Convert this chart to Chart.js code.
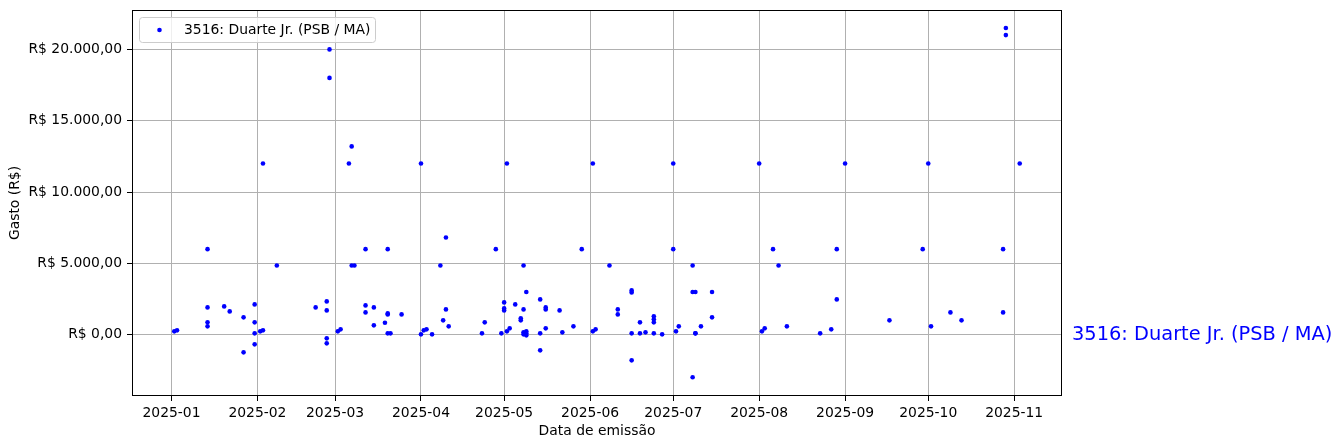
<!DOCTYPE html>
<html lang="pt-BR">
<head>
<meta charset="UTF-8">
<title>Gastos por data de emissão</title>
<script src="https://cdn.jsdelivr.net/npm/chart.js"></script>
<style>
  html, body { margin: 0; padding: 0; background: #fff; }
  #wrap { width: 1342px; height: 448px; }
</style>
</head>
<body>
<div id="wrap"><canvas id="chart" width="1342" height="448"></canvas></div>
<script>
const deputado = "3516: Duarte Jr. (PSB / MA)";

// data de emissão / valor (R$)
const dates = [
  "2025-01-02", "2025-01-03", "2025-01-14", "2025-01-14", "2025-01-14", "2025-01-14",
  "2025-01-20", "2025-01-22", "2025-01-27", "2025-01-27", "2025-01-31", "2025-01-31",
  "2025-01-31", "2025-01-31",
  "2025-02-02", "2025-02-03", "2025-02-03", "2025-02-08", "2025-02-22", "2025-02-26",
  "2025-02-26", "2025-02-26", "2025-02-26", "2025-02-27", "2025-02-27",
  "2025-03-02", "2025-03-03", "2025-03-06", "2025-03-07", "2025-03-07", "2025-03-08",
  "2025-03-12", "2025-03-12", "2025-03-12", "2025-03-15", "2025-03-15", "2025-03-19",
  "2025-03-20", "2025-03-20", "2025-03-20", "2025-03-20", "2025-03-21", "2025-03-25",
  "2025-04-01", "2025-04-01", "2025-04-02", "2025-04-03", "2025-04-05", "2025-04-08",
  "2025-04-09", "2025-04-10", "2025-04-10", "2025-04-11", "2025-04-23", "2025-04-24",
  "2025-04-28", "2025-04-30",
  "2025-05-01", "2025-05-01", "2025-05-01", "2025-05-02", "2025-05-02", "2025-05-03",
  "2025-05-05", "2025-05-07", "2025-05-07", "2025-05-08", "2025-05-08", "2025-05-09",
  "2025-05-08", "2025-05-08", "2025-05-09", "2025-05-09", "2025-05-09", "2025-05-14",
  "2025-05-14", "2025-05-14", "2025-05-16", "2025-05-16", "2025-05-16", "2025-05-21",
  "2025-05-22", "2025-05-26", "2025-05-29",
  "2025-06-02", "2025-06-02", "2025-06-03", "2025-06-08", "2025-06-11", "2025-06-11",
  "2025-06-16", "2025-06-16", "2025-06-16", "2025-06-16", "2025-06-19", "2025-06-19",
  "2025-06-21", "2025-06-24", "2025-06-24", "2025-06-24", "2025-06-24", "2025-06-27",
  "2025-07-01", "2025-07-01", "2025-07-02", "2025-07-03", "2025-07-08", "2025-07-08",
  "2025-07-09", "2025-07-08", "2025-07-09", "2025-07-09", "2025-07-11", "2025-07-15",
  "2025-07-15",
  "2025-08-01", "2025-08-02", "2025-08-03", "2025-08-06", "2025-08-08", "2025-08-11",
  "2025-08-23", "2025-08-27", "2025-08-29", "2025-08-29",
  "2025-09-01", "2025-09-17", "2025-09-29",
  "2025-10-01", "2025-10-02", "2025-10-09", "2025-10-13", "2025-10-28", "2025-10-28",
  "2025-10-29", "2025-10-29",
  "2025-11-03"
];
const values = [
  240, 310, 6000, 1920, 870, 590,
  1990, 1640, 1220, -1230, 2130, 870,
  100, -670,
  240, 310, 12000, 4860, 1920, -600,
  -250, 1710, 2340, 20000, 18000,
  240, 380, 12000, 13200, 4860, 4860,
  6000, 2060, 1570, 1920, 660, 840,
  6000, 1500, 1430, 100, 100, 1430,
  30, 12000, 310, 380, 30, 4860,
  1010, 1780, 6820, 590, 100, 870,
  6000, 100,
  2270, 1850, 1710, 240, 12000, 450,
  2130, 1150, 1010, 1780, 4860, 3000,
  170, 30, 100, 240, -40, 2480,
  100, -1090, 1920, 1780, 450, 1710,
  170, 590, 6000,
  240, 12000, 380, 4860, 1780, 1430,
  3110, 2970, 100, -1790, 870, 100,
  170, 1290, 1080, 870, 100, 30,
  12000, 6000, 240, 590, 4860, 3000,
  3000, -2980, 100, 100, 590, 3000,
  1220,
  12000, 240, 450, 6000, 4860, 590,
  100, 380, 6000, 2480,
  12000, 1010, 6000,
  12000, 590, 1570, 1010, 6000, 1570,
  21500, 21000,
  12000
];
const monthTicks = ["2025-01", "2025-02", "2025-03", "2025-04", "2025-05", "2025-06",
                    "2025-07", "2025-08", "2025-09", "2025-10", "2025-11"];
const yTicks = [0, 5000, 10000, 15000, 20000];

function toMs(s) {
  const p = s.split("-").map(Number);
  return Date.UTC(p[0], p[1] - 1, p[2] || 1);
}

function brl(v) {
  const neg = v < 0;
  const parts = Math.abs(v).toFixed(2).split(".");
  return "R$ " + (neg ? "-" : "") + parts[0].replace(/\B(?=(\d{3})+(?!\d))/g, ".") + "," + parts[1];
}

const points = dates.map((d, i) => ({ x: toMs(d), y: values[i] }));

// matplotlib-like 5% margin on x
const xs = points.map(p => p.x);
const xMinD = Math.min(...xs), xMaxD = Math.max(...xs);
const xPad = (xMaxD - xMinD) * 0.05;

const FONT = "'DejaVu Sans', sans-serif";
const fs = 13.9;

const overlay = {
  id: "overlay",
  afterDraw(chart) {
    const { ctx, chartArea: a, scales } = chart;
    ctx.save();
    // axes frame
    const l = Math.round(a.left) + 0.5, t = Math.round(a.top) + 0.5;
    const r0 = Math.round(a.right) - 0.5, b = Math.round(a.bottom) - 0.5;
    ctx.strokeStyle = "#000";
    ctx.lineWidth = 1;
    ctx.strokeRect(l, t, r0 - l, b - t);

    // legend box
    const bx = 139.5, by = 17.5, bw = 236, bh = 25, r = 3;
    ctx.beginPath();
    ctx.roundRect(bx, by, bw, bh, r);
    ctx.fillStyle = "rgba(255,255,255,0.8)";
    ctx.fill();
    ctx.strokeStyle = "#cccccc";
    ctx.stroke();
    ctx.beginPath();
    ctx.arc(159.5, 30, 2.3, 0, Math.PI * 2);
    ctx.fillStyle = "#0000ff";
    ctx.fill();
    ctx.fillStyle = "#000";
    ctx.font = fs + "px " + FONT;
    ctx.textBaseline = "middle";
    ctx.textAlign = "left";
    ctx.fillText(deputado, 184, 30);

    // label on the right of the axes
    ctx.fillStyle = "#0000ff";
    ctx.font = "19.4px " + FONT;
    ctx.fillText(deputado, a.right + 10, scales.y.getPixelForValue(0));
    ctx.restore();
  }
};

new Chart(document.getElementById("chart"), {
  type: "scatter",
  data: {
    datasets: [{
      label: deputado,
      data: points,
      backgroundColor: "#0000ff",
      borderColor: "#0000ff",
      borderWidth: 0,
      pointRadius: 2.3,
      pointHoverRadius: 2.3
    }]
  },
  options: {
    responsive: false,
    animation: false,
    devicePixelRatio: 1,
    layout: { padding: { left: 0, top: 10, right: 280, bottom: 0 } },
    plugins: { legend: { display: false }, tooltip: { enabled: false } },
    font: { family: FONT, size: fs },
    scales: {
      x: {
        type: "linear",
        z: 1,
        min: xMinD - xPad,
        max: xMaxD + xPad,
        afterBuildTicks: s => { s.ticks = monthTicks.map(m => ({ value: toMs(m) })); },
        afterFit: s => { s.height = 52; s.paddingLeft = 0; s.paddingRight = 0; },
        ticks: {
          autoSkip: false,
          maxRotation: 0,
          padding: 4,
          color: "#000",
          font: { family: FONT, size: fs },
          callback: v => {
            const d = new Date(v);
            return d.getUTCFullYear() + "-" + String(d.getUTCMonth() + 1).padStart(2, "0");
          }
        },
        grid: { color: "#b0b0b0", lineWidth: 1, tickLength: 5, tickColor: "#000" },
        border: { display: false },
        title: {
          display: true,
          text: "Data de emissão",
          color: "#000",
          font: { family: FONT, size: fs },
          padding: { top: 0, bottom: 8 }
        }
      },
      y: {
        z: 1,
        min: -4290,
        max: 22760,
        afterBuildTicks: s => { s.ticks = yTicks.map(v => ({ value: v })); },
        afterFit: s => { s.width = 132; s.paddingTop = 0; s.paddingBottom = 0; },
        ticks: {
          padding: 5,
          color: "#000",
          font: { family: FONT, size: fs },
          callback: v => brl(v)
        },
        grid: { color: "#b0b0b0", lineWidth: 1, tickLength: 5, tickColor: "#000" },
        border: { display: false },
        title: {
          display: true,
          text: "Gasto (R$)",
          color: "#000",
          font: { family: FONT, size: fs },
          padding: { top: 7, bottom: 0 }
        }
      }
    }
  },
  plugins: [overlay]
});
</script>
</body>
</html>
